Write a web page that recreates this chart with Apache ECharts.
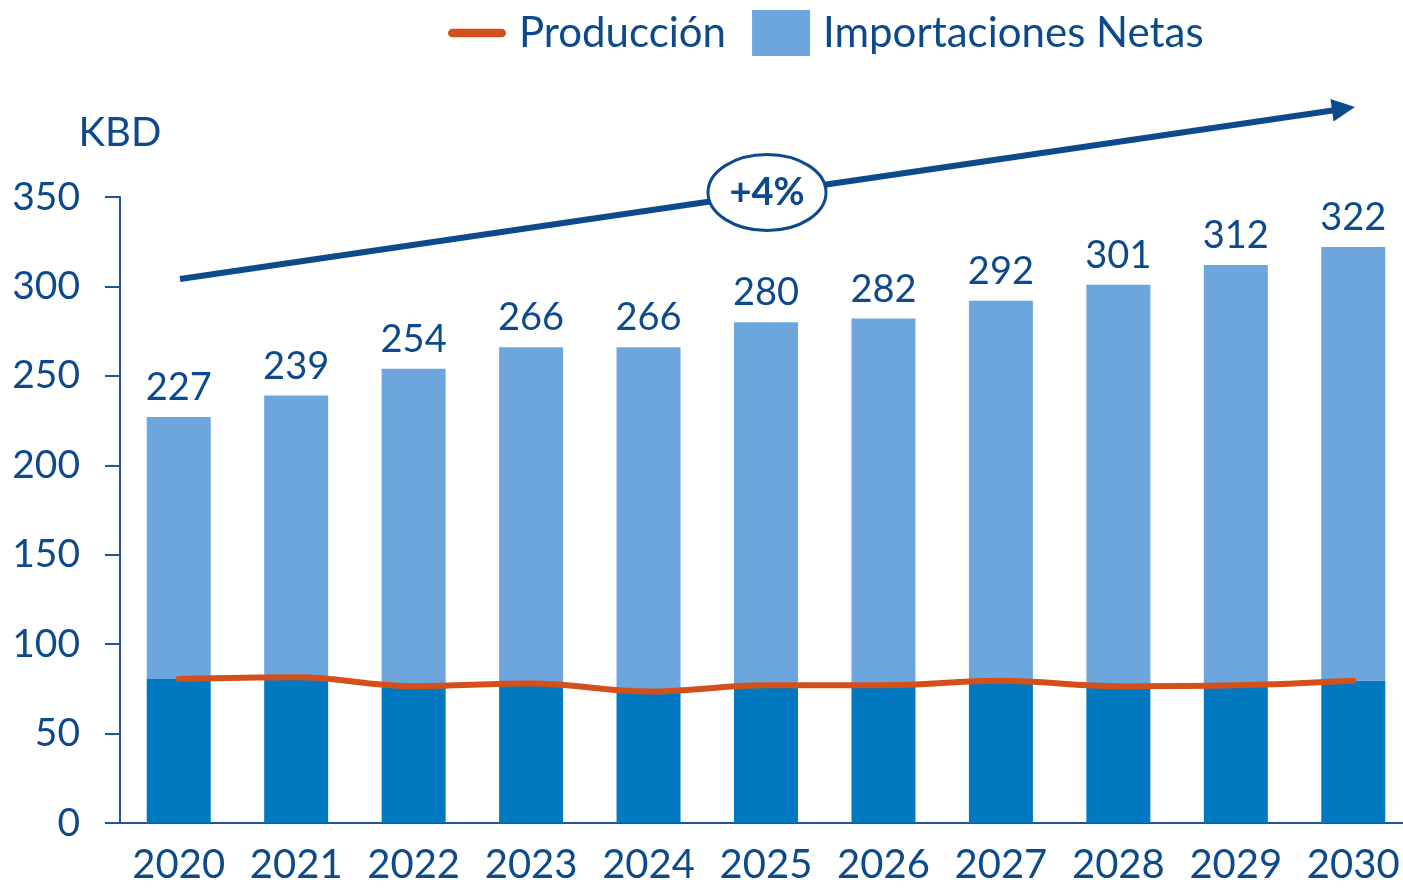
<!DOCTYPE html>
<html>
<head>
<meta charset="utf-8">
<script src="https://cdn.jsdelivr.net/npm/echarts@6/dist/echarts.min.js"></script>
<style>
  html, body { margin: 0; padding: 0; background: #fff; }
  #chart { width: 1403px; height: 890px; }
</style>
</head>
<body>
<div id="chart"></div>
<script>
const years = ['2020', '2021', '2022', '2023', '2024', '2025', '2026', '2027', '2028', '2029', '2030']
const totals = [227, 239, 254, 266, 266, 280, 282, 292, 301, 312, 322]
const produccion = [80.5, 81.5, 76.5, 78, 73.5, 77, 77, 79.5, 76.5, 77, 79.5]
const importaciones = [146.5, 157.5, 177.5, 188, 192.5, 203, 205, 212.5, 224.5, 235, 242.5]
const yTicks = [0, 50, 100, 150, 200, 250, 300, 350]

const textColor = '#0d4a8b'
const font = 'Lato'

const chart = echarts.init(document.getElementById('chart'))

chart.setOption({
  animation: false,
  textStyle: { fontFamily: font, color: textColor },
  legend: {
    left: 443,
    top: 5,
    itemWidth: 58,
    itemHeight: 46,
    itemGap: 26,
    textStyle: { fontSize: 42, color: textColor, fontFamily: font, padding: [0, 0, 0, 8] },
    data: [
      { name: 'Producción', icon: 'path://M4,0 L50,0 A4,4 0 0 1 50,8 L4,8 A4,4 0 0 1 4,0 Z' },
      { name: 'Importaciones Netas', icon: 'rect' }
    ]
  },
  grid: { left: 120, top: 197, width: 1292, height: 626, outerBoundsMode: 'none', containLabel: false },
  xAxis: {
    type: 'category',
    data: years,
    axisLine: { lineStyle: { color: '#1f5592', width: 2 } },
    axisTick: { show: false },
    axisLabel: { fontSize: 40, color: textColor, margin: 22, interval: 0 }
  },
  yAxis: {
    type: 'value',
    min: 0,
    max: 350,
    interval: 50,
    name: 'KBD',
    nameLocation: 'end',
    nameGap: 44,
    nameTextStyle: { fontSize: 40, color: textColor, align: 'center' },
    axisLine: { show: true, lineStyle: { color: '#1f5592', width: 2 } },
    axisTick: { show: true, length: 15, lineStyle: { color: '#1f5592', width: 2 } },
    axisLabel: {
      fontSize: 39, color: textColor, margin: 40,
      formatter: v => yTicks.includes(v) ? String(v) : ''
    },
    splitLine: { show: false }
  },
  series: [
    {
      name: 'base',
      type: 'bar',
      stack: 'total',
      barWidth: 64,
      data: produccion,
      itemStyle: { color: '#0079c1' },
      z: 2
    },
    {
      name: 'Importaciones Netas',
      type: 'bar',
      stack: 'total',
      barWidth: 64,
      data: importaciones,
      itemStyle: { color: '#6ca6dc' },
      label: {
        show: true,
        position: 'top',
        distance: 10,
        fontSize: 38,
        color: textColor,
        formatter: p => String(totals[p.dataIndex])
      },
      z: 2
    },
    {
      name: 'Producción',
      type: 'line',
      data: produccion,
      smooth: 0.4,
      symbol: 'none',
      lineStyle: { color: '#d4501a', width: 6, cap: 'round' },
      itemStyle: { color: '#d4501a' },
      z: 5
    }
  ],
  graphic: [
    {
      type: 'line',
      shape: { x1: 180, y1: 279, x2: 1336, y2: 110 },
      style: { stroke: '#0d4a8b', lineWidth: 6 },
      z: 10
    },
    {
      type: 'polygon',
      shape: { points: [[1355, 107], [1333.6, 121.5], [1330.4, 99]] },
      style: { fill: '#0d4a8b' },
      z: 10
    },
    {
      type: 'ellipse',
      shape: { cx: 767, cy: 192.5, rx: 59, ry: 38 },
      style: { fill: '#fff', stroke: '#0d4a8b', lineWidth: 3 },
      z: 11
    },
    {
      type: 'text',
      x: 767,
      y: 193,
      style: {
        text: '+4%',
        font: 'bold 38px Lato',
        fill: '#0d4a8b',
        align: 'center',
        verticalAlign: 'middle'
      },
      z: 12
    }
  ]
})
</script>
</body>
</html>
